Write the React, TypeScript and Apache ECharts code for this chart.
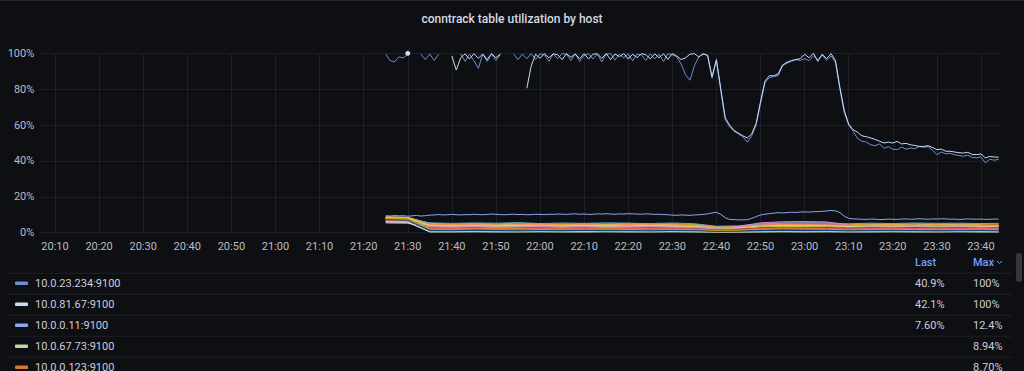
import React, { useEffect, useRef } from 'react';
import * as echarts from 'echarts';

const TITLE = 'conntrack table utilization by host';
const LEGEND_HEADERS = ['Last', 'Max'];

// x axis in minutes after 20:00
const AXIS_START_MIN = 6.44;
const AXIS_END_MIN = 224.31;
const X_TICK_MINUTES = [10, 20, 30, 40, 50, 60, 70, 80, 90, 100, 110, 120, 130, 140, 150, 160, 170, 180, 190, 200, 210, 220];
const START_HOUR = 20;
const Y_MIN = 0;
const Y_MAX = 100;
const Y_STEP = 20;

const HOSTS = [
  '10.0.23.234:9100', '10.0.81.67:9100', '10.0.0.11:9100', '10.0.67.73:9100', '10.0.0.123:9100',
  '10.0.44.18:9100', '10.0.12.90:9100', '10.0.95.7:9100', '10.0.31.142:9100', '10.0.58.26:9100',
  '10.0.7.219:9100', '10.0.73.64:9100', '10.0.19.181:9100', '10.0.86.33:9100', '10.0.40.156:9100',
  '10.0.62.9:9100', '10.0.27.240:9100', '10.0.90.115:9100', '10.0.5.77:9100', '10.0.49.200:9100',
  '10.0.36.88:9100', '10.0.71.143:9100', '10.0.15.61:9100',
];

const COLORS = [
  '#6d8fcf', '#c9dcf7', '#8fa5f2', '#b7dba6', '#e0752d',
  '#EAB839', '#F4D598', '#BF1B00', '#C15C17', '#E5AC0E',
  '#806EB7', '#BA43A9', '#705DA0', '#64B0C8', '#6ED0E0',
  '#9AC48A', '#F9934E', '#EA6460', '#F2C96D', '#D683CE',
  '#CCA300', '#E0F9D7', '#0A437C',
];

// 1-minute samples from 21:25 (minute 85) to 23:44 (minute 224)
const FINE_FIRST_MIN = 85;

const HOST_A = [
  99.5, 96, 95.2, 98, 97.5, 99.6, null, null, 99.5, 96.5,
  99.6, 96, 99.5, null, null, null, null, 99.6, 95.5, 99.5,
  96, 91.6, 99.5, 95.5, 99.6, 96, 99.3, null, null, 99.7,
  96.5, 99.6, 97, 99.8, 96.5, 99.7, 99.2, 95.5, 99.6, 97,
  99.8, 99.5, 96, 99.7, 95.5, 98.8, 99.8, 96.8, 99.5, 95.2,
  99.6, 99.8, 96.2, 99.4, 97.5, 99.8, 95.8, 99.6, 99.1, 96,
  99.7, 96.8, 99.5, 95.4, 99.8, 99.2, 98, 94, 88, 85,
  93, 98, 100, 98.5, 86, 96, 79, 63, 59, 56.5,
  55, 53.5, 50.5, 54, 60, 72, 83.5, 86.5, 87, 87.5,
  93, 94.5, 95.5, 96.5, 96, 97, 96, 98.5, 96.5, 99,
  96, 98.5, 95, 80, 67, 60, 56.5, 52.5, 51, 50.5,
  49, 48.5, 49.5, 47, 48, 46.5, 46.3, 47.8, 46.5, 47.2,
  46.8, 48.1, 47.6, 48, 46, 43.5, 45, 44, 44.2, 43.5,
  43, 42.6, 43.2, 42, 41.7, 42.3, 38.9, 41, 40.4, 40.9,
];

const HOST_B = [
  null, null, null, null, null, 100, null, null, null, null,
  null, null, null, null, null, 98.5, 90.7, 97.5, 99.7, 96.8,
  99.8, 97.2, 99.6, 96.5, 99.8, 97.5, 99.6, null, null, null,
  null, null, 80.5, 93, 99.5, 97.2, 99.8, 97.5, 99.7, 99.2,
  96.5, 99.8, 97.8, 99.6, 97, 99.8, 96.8, 99.5, 99.7, 97.2,
  99.8, 96.5, 99.6, 98.2, 99.8, 96.8, 99.5, 97.6, 99.8, 99.2,
  96.9, 99.7, 97.5, 99.8, 96.6, 99.8, 98.5, 96.5, 97.5, 99.5,
  99.8, 98, 99.6, 99, 87, 96.5, 80, 64, 60, 57,
  55.5, 54, 52.8, 55, 61, 73, 84.5, 87.5, 87.5, 88.5,
  93.5, 95, 96, 96.5, 97, 99.5, 97.5, 100, 95.5, 99.5,
  97, 99.8, 96, 81, 68, 60.5, 57.4, 56, 54, 53.5,
  52.8, 52, 51, 50, 50.5, 50, 50.9, 49.5, 49.8, 49,
  48.6, 48.1, 48.1, 48.5, 47.5, 46.3, 46.6, 45.4, 45.4, 45,
  44.6, 44.4, 44.8, 43.6, 43.5, 43.9, 41.7, 42.5, 42.2, 42.1,
];

const HOST_C = [
  9.5, 9.3, 9.6, 9.4, 9.5, 9.2, 9.4, 9.6, 9.3, 9.5,
  9.8, 9.9, 10.1, 9.9, 10.0, 10.2, 10.0, 9.9, 10.1, 10.0,
  10.3, 10.1, 10.0, 10.2, 10.4, 10.2, 10.1, 10.0, 10.2, 10.3,
  10.1, 10.2, 10.0, 10.1, 10.3, 10.2, 10.1, 10.3, 10.2, 10.4,
  10.3, 10.2, 10.4, 10.5, 10.3, 10.4, 10.2, 10.3, 10.5, 10.4,
  10.6, 10.4, 10.3, 10.5, 10.4, 10.6, 10.5, 10.4, 10.3, 10.5,
  10.4, 10.2, 10.3, 10.1, 10.0, 9.8, 9.7, 9.9, 9.8, 9.7,
  9.9, 10.0, 10.2, 10.5, 11.0, 11.4, 10.2, 8.3, 7.4, 7.3,
  7.1, 7.2, 7.2, 8.0, 9.0, 9.9, 10.3, 10.6, 10.9, 11.2,
  11.0, 11.2, 11.4, 11.3, 11.5, 11.6, 11.5, 11.7, 11.8, 11.9,
  12.1, 12.4, 12.2, 11.2, 9.2, 8.0, 7.7, 7.6, 7.5, 7.4,
  7.6, 7.5, 7.3, 7.4, 7.6, 7.5, 7.4, 7.6, 7.7, 7.5,
  7.6, 7.8, 7.6, 7.5, 7.7, 7.6, 7.8, 7.7, 7.5, 7.6,
  7.4, 7.5, 7.7, 7.6, 7.5, 7.6, 7.4, 7.5, 7.6, 7.6,
];

// 5-minute samples for the low hosts
const COARSE_MINUTES = [
  85, 90, 95, 100, 105, 110, 115, 120, 125, 130, 135, 140, 145, 150, 155,
  160, 165, 170, 175, 180, 185, 190, 195, 200, 205, 210, 215, 220, 224,
];

const HOST_D = [8.94, 8.6, 5.2, 4.6, 4.9, 4.4, 4.7, 4.5, 4.8, 4.3, 4.6, 4.4, 4.7, 4.5, 4.2, 3.1, 3.4, 4.8, 5.1, 5.0, 4.9, 4.2, 4.5, 4.6, 4.4, 4.7, 4.5, 4.6, null];
const HOST_E = [8.70, 8.3, 4.1, 3.8, 4.0, 3.7, 3.9, 4.2, 3.8, 4.0, 3.6, 3.9, 4.1, 3.7, 3.5, 2.4, 2.6, 3.9, 4.2, 4.0, 4.1, 3.5, 3.7, 3.9, 3.6, 3.8, 3.7, 3.9, null];
const HOST_F = [8.2, 7.9, 3.6, 3.3, 3.5, 3.2, 3.6, 3.4, 3.7, 3.3, 3.5, 3.1, 3.4, 3.6, 3.0, 2.1, 2.3, 3.2, 3.5, 3.4, 3.3, 2.9, 3.2, 3.0, 3.3, 3.1, 3.2, 3.0, 3.1];
const HOST_G = [7.9, 7.7, 4.4, 4.0, 4.3, 4.1, 3.9, 4.4, 4.1, 4.2, 4.0, 4.3, 3.9, 4.1, 3.8, 2.8, 3.0, 4.1, 4.4, 4.3, 4.2, 3.7, 3.9, 4.0, 3.8, 4.1, 3.9, 3.8, 4.0];
const HOST_H = [6.8, 6.5, 1.9, 1.7, 2.0, 1.8, 1.6, 1.9, 1.7, 1.8, 2.0, 1.7, 1.9, 1.6, 1.5, 1.1, 1.2, 1.8, 2.0, 1.9, 1.8, 1.5, 1.7, 1.6, 1.8, 1.7, 1.6, 1.8, 1.7];
const HOST_I = [7.4, 7.1, 2.7, 2.5, 2.8, 2.4, 2.6, 2.9, 2.5, 2.7, 2.4, 2.6, 2.8, 2.5, 2.3, 1.6, 1.8, 2.6, 2.9, 2.8, 2.7, 2.3, 2.5, 2.6, 2.4, 2.7, 2.5, 2.6, 2.5];
const HOST_J = [8.5, 8.2, 5.1, 4.8, 5.2, 4.9, 5.3, 5.0, 4.7, 5.1, 4.9, 5.2, 4.8, 5.0, 4.6, 3.3, 3.5, 4.6, 4.9, 4.8, 4.7, 4.4, 4.9, 4.7, 5.0, 4.8, 4.9, 4.7, 4.8];
const HOST_K = [7.1, 6.9, 3.1, 2.9, 3.2, 2.8, 3.0, 3.3, 2.9, 3.1, 2.8, 3.0, 3.2, 2.9, 2.7, 2.2, 3.1, 5.2, 5.8, 5.9, 5.7, 3.8, 3.4, 3.5, 3.3, 3.6, 3.4, 3.5, 3.4];
const HOST_L = [6.2, 6.0, 2.2, 2.0, 2.3, 2.1, 1.9, 2.2, 2.0, 2.1, 1.9, 2.2, 2.0, 2.3, 1.8, 1.4, 2.4, 4.6, 5.2, 5.4, 5.1, 3.0, 2.4, 2.5, 2.3, 2.6, 2.4, 2.3, 2.5];
const HOST_M = [5.8, 5.5, 1.4, 1.2, 1.5, 1.3, 1.4, 1.2, 1.5, 1.3, 1.4, 1.2, 1.3, 1.5, 1.1, 0.8, 1.9, 4.1, 4.7, 4.9, 4.6, 2.4, 1.5, 1.6, 1.4, 1.5, 1.3, 1.4, 1.5];
const HOST_N = [8.0, 7.8, 5.5, 5.2, 5.4, 5.3, 5.6, 5.1, 5.4, 5.2, 5.5, 5.3, 5.1, 5.4, 5.0, 3.6, 3.8, 4.9, 5.3, 5.5, 5.4, 5.0, 5.3, 5.1, 5.4, 5.2, 5.3, 5.1, 5.2];
const HOST_O = [7.6, 7.2, 0.9, 0.8, 1.0, 0.9, 0.8, 1.0, 0.9, 0.8, 1.0, 0.9, 0.8, 0.9, 0.8, 0.6, 0.7, 0.9, 1.0, 0.9, 1.0, 0.8, 0.9, 0.8, 0.9, 0.8, 0.9, 0.8, 0.9];
const HOST_P = [6.5, 6.3, 3.9, 3.6, 3.8, 3.5, 3.7, 3.9, 3.6, 3.8, 3.4, 3.7, 3.5, 3.8, 3.3, 2.6, 2.8, 3.6, 3.9, 3.7, 3.8, 3.3, 3.6, 3.4, 3.7, 3.5, 3.6, 3.4, 3.5];
const HOST_Q = [7.7, 7.4, 4.6, 4.3, 4.5, 4.2, 4.4, 4.7, 4.3, 4.5, 4.2, 4.6, 4.4, 4.3, 4.0, 2.9, 3.2, 4.3, 4.6, 4.5, 4.4, 4.0, 4.2, 4.3, 4.1, 4.4, 4.2, 4.3, 4.2];
const HOST_R = [6.9, 6.6, 2.4, 2.2, 2.5, 2.3, 2.1, 2.4, 2.2, 2.3, 2.1, 2.4, 2.2, 2.0, 1.9, 1.3, 1.5, 2.3, 2.5, 2.4, 2.3, 1.9, 2.2, 2.1, 2.3, 2.2, 2.1, 2.3, 2.2];
const HOST_S = [8.4, 8.1, 4.0, 3.4, 3.9, 3.6, 4.1, 3.7, 3.5, 3.9, 3.8, 3.5, 4.0, 3.6, 3.2, 2.5, 2.7, 3.7, 4.0, 3.8, 3.9, 3.4, 3.8, 3.6, 3.5, 3.9, 3.7, 3.5, 3.6];
const HOST_T = [5.4, 5.2, 3.3, 3.1, 3.4, 3.0, 3.2, 3.4, 3.1, 3.3, 3.0, 3.2, 3.4, 3.1, 2.9, 2.4, 3.5, 5.5, 6.1, 6.2, 6.0, 4.2, 3.8, 3.9, 3.7, 4.0, 3.8, 3.9, 3.8];
const HOST_U = [8.1, 7.8, 2.0, 1.8, 2.1, 1.9, 2.2, 1.8, 2.0, 1.9, 2.1, 1.8, 2.0, 1.9, 1.7, 1.2, 1.3, 1.9, 2.1, 2.0, 1.9, 1.6, 1.8, 1.9, 1.7, 1.9, 1.8, 1.7, 1.8];
const HOST_V = [6.0, 5.8, 0.4, 0.4, 0.5, 0.4, 0.4, 0.5, 0.4, 0.4, 0.5, 0.4, 0.4, 0.5, 0.4, 0.3, 0.3, 0.4, 0.5, 0.4, 0.5, 0.4, 0.4, 0.5, 0.4, 0.4, 0.5, 0.4, 0.4];
const HOST_W = [7.3, 7.0, 1.2, 1.1, 1.3, 1.2, 1.0, 1.2, 1.1, 1.3, 1.1, 1.2, 1.0, 1.2, 1.1, 0.7, 0.8, 1.2, 1.3, 1.2, 1.3, 1.0, 1.2, 1.1, 1.2, 1.0, 1.1, 1.2, 1.1];

const FINE_VALUES = [HOST_A, HOST_B, HOST_C];
const COARSE_VALUES = [
  HOST_D, HOST_E, HOST_F, HOST_G, HOST_H, HOST_I, HOST_J, HOST_K, HOST_L, HOST_M,
  HOST_N, HOST_O, HOST_P, HOST_Q, HOST_R, HOST_S, HOST_T, HOST_U, HOST_V, HOST_W,
];

const LEGEND_ROWS_SHOWN = 5;

// ---- styling ----
const BG = '#0e0f13';
const GRID_COLOR = '#1e2025';
const AXIS_TEXT = '#b9bcc4';
const TEXT = '#ccccdc';
const LINK = '#6e9fff';
const FONT = 'Roboto';

const pad = (n: number) => (n < 10 ? '0' : '') + n;
const minuteLabel = (m: number) => {
  const total = Math.round(m);
  return pad(START_HOUR + Math.floor(total / 60)) + ':' + pad(total % 60);
};

function seriesPoints(values: (number | null)[], minutes: number[]) {
  return values.map((v, i) => [minutes[i], v]);
}

function fmtPct(v: number | null) {
  return v == null ? '' : v.toPrecision(3) + '%';
}

function buildOption() {
  const fineMinutes = HOST_A.map((_, i) => FINE_FIRST_MIN + i);
  const allValues = [...FINE_VALUES, ...COARSE_VALUES];
  const allMinutes = allValues.map((_, i) => (i < FINE_VALUES.length ? fineMinutes : COARSE_MINUTES));

  const series = allValues.map((vals, si) => {
    const isIsolated = (i: number) =>
      vals[i] != null && (i === 0 || vals[i - 1] == null) && (i === vals.length - 1 || vals[i + 1] == null);
    return {
      type: 'line',
      name: HOSTS[si],
      data: seriesPoints(vals, allMinutes[si]),
      showSymbol: true,
      symbol: (_v: any, p: any) => (isIsolated(p.dataIndex) ? 'circle' : 'none'),
      symbolSize: 5,
      itemStyle: { color: COLORS[si] },
      lineStyle: { color: COLORS[si], width: 1 },
      connectNulls: false,
      silent: true,
      emphasis: { disabled: true },
      z: 2,
    };
  });

  // legend table (Grafana-style)
  const graphics: any[] = [];
  graphics.push({ type: 'rect', shape: { x: 0, y: 0, width: 1024, height: 1 }, style: { fill: '#25272d' }, silent: true });
  const headerY = 262;
  const lastX = 915;
  const maxX = 973;
  graphics.push({ type: 'text', x: lastX, y: headerY, style: { text: LEGEND_HEADERS[0], fill: LINK, fontSize: 11, fontFamily: FONT, fontWeight: 500, verticalAlign: 'middle' } });
  graphics.push({ type: 'text', x: maxX, y: headerY, style: { text: LEGEND_HEADERS[1], fill: LINK, fontSize: 11, fontFamily: FONT, fontWeight: 500, verticalAlign: 'middle' } });
  graphics.push({ type: 'polyline', shape: { points: [[997, 261], [999.5, 263.5], [1002, 261]] }, style: { stroke: LINK, lineWidth: 1, fill: null } });

  for (let i = 0; i < LEGEND_ROWS_SHOWN; i++) {
    const vals = allValues[i];
    const nonNull = vals.filter((v) => v != null) as number[];
    const last = vals[vals.length - 1];
    const max = Math.max(...nonNull);
    const cy = 283.3 + i * 21;
    graphics.push({ type: 'rect', shape: { x: 8, y: cy - 10.5, width: 1004, height: 1 }, style: { fill: '#1f2126' } });
    graphics.push({ type: 'rect', shape: { x: 15, y: cy - 1.8, width: 13, height: 3.6, r: 1 }, style: { fill: COLORS[i] } });
    graphics.push({ type: 'text', x: 35, y: cy, style: { text: HOSTS[i], fill: TEXT, fontSize: 11, fontFamily: FONT, verticalAlign: 'middle' } });
    graphics.push({ type: 'text', x: lastX, y: cy, style: { text: fmtPct(last as number | null), fill: TEXT, fontSize: 11, fontFamily: FONT, verticalAlign: 'middle' } });
    graphics.push({ type: 'text', x: maxX, y: cy, style: { text: fmtPct(max), fill: TEXT, fontSize: 11, fontFamily: FONT, verticalAlign: 'middle' } });
  }
  graphics.push({ type: 'rect', shape: { x: 1016, y: 253, width: 6, height: 29, r: 3 }, style: { fill: '#34363c' } });

  return {
    animation: false,
    backgroundColor: BG,
    title: {
      text: TITLE,
      left: 'center',
      top: 8,
      textStyle: { color: '#d8d9e0', fontSize: 12, fontWeight: 500, fontFamily: FONT },
    },
    grid: { left: 39.3, top: 53.3, width: 960.7, height: 179.4, containLabel: false },
    xAxis: {
      type: 'value',
      min: AXIS_START_MIN,
      max: AXIS_END_MIN,
      axisLine: { show: false },
      axisTick: { show: false, customValues: X_TICK_MINUTES },
      axisLabel: {
        customValues: X_TICK_MINUTES,
        color: AXIS_TEXT,
        fontSize: 11,
        fontFamily: FONT,
        margin: 8,
        formatter: (v: number) => minuteLabel(v),
      },
      splitLine: { show: true, lineStyle: { color: GRID_COLOR, width: 1 } },
    },
    yAxis: {
      type: 'value',
      min: Y_MIN,
      max: Y_MAX,
      interval: Y_STEP,
      axisLine: { show: false },
      axisTick: { show: false },
      axisLabel: { formatter: '{value}%', color: AXIS_TEXT, fontSize: 11, fontFamily: FONT, margin: 5 },
      splitLine: { lineStyle: { color: GRID_COLOR, width: 1 } },
    },
    series,
    graphic: graphics,
  };
}

export default function App() {
  const ref = useRef<HTMLDivElement>(null);
  useEffect(() => {
    document.body.style.margin = '0';
    document.body.style.background = BG;
    const chart = echarts.init(ref.current!, null, { renderer: 'svg' });
    chart.setOption(buildOption() as any);
    return () => chart.dispose();
  }, []);
  return <div ref={ref} style={{ position: 'absolute', left: 0, top: 0, width: 1024, height: 371 }} />;
}
